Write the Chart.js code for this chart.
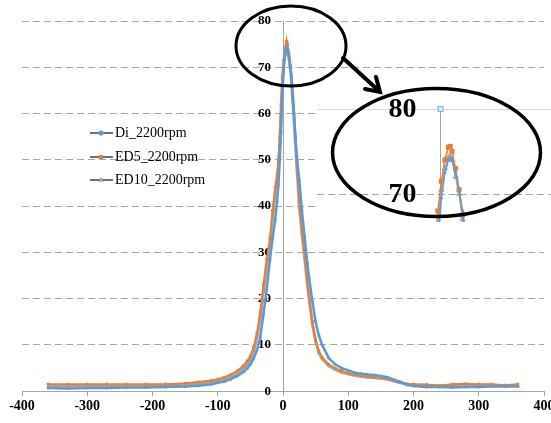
<!DOCTYPE html>
<html>
<head>
<meta charset="utf-8">
<script src="https://cdn.jsdelivr.net/npm/chart.js@4.4.1/dist/chart.umd.min.js"></script>
<style>
  html, body { margin: 0; padding: 0; background: #fff; }
  #wrap { position: relative; width: 551px; height: 423px; }
  #wrap canvas { position: absolute; left: 0; top: 0; }
</style>
</head>
<body>
<div id="wrap">
  <canvas id="main" width="551" height="423"></canvas>
  <canvas id="zoom" width="551" height="423"></canvas>
</div>
<script>
// Crank angle (deg) shared by all three runs
const angles = [
  -360, -330, -300, -270, -240, -210, -180, -150, -130, -110,
  -100, -90, -80, -70, -60, -55, -50, -45, -40, -35,
  -30, -25, -20, -16, -12, -9, -7, -5, -3, -1,
  1, 3, 5, 6, 7, 9, 11, 13, 15, 17,
  19, 21, 25, 29, 33, 37, 40, 45, 50, 55,
  60, 70, 80, 90, 100, 110, 120, 130, 140, 150,
  160, 170, 180, 190, 200, 220, 240, 260, 280, 300,
  320, 340, 360
];

const di = [
  0.7, 0.6, 0.7, 0.7, 0.8, 0.8, 0.9, 1.0, 1.2, 1.5,
  1.8, 2.1, 2.6, 3.3, 4.2, 4.9, 5.8, 7.0, 8.8, 11.5,
  16.5, 22, 28.5, 33, 37, 41, 44.5, 50, 56, 64,
  69.5, 72.5, 74, 74.2, 74, 72.5, 70.5, 68, 64, 60,
  55, 51, 45.5, 39, 33.5, 28, 24.5, 19.5, 15, 12,
  10, 7.2, 5.8, 5.0, 4.5, 4.0, 3.8, 3.6, 3.5, 3.3,
  3.0, 2.5, 2.0, 1.4, 1.1, 0.9, 0.9, 0.8, 0.9, 0.9,
  1.0, 1.0, 1.0
];

const ed5 = [
  1.5, 1.5, 1.5, 1.5, 1.5, 1.5, 1.5, 1.7, 2.0, 2.3,
  2.6, 3.0, 3.6, 4.4, 5.6, 6.5, 7.6, 9.6, 12.5, 17,
  23, 28.5, 33, 39, 44, 47, 50, 55, 62, 68,
  71.5, 74, 75.5, 75.6, 75, 73, 70.5, 67.5, 63, 59,
  54, 50, 41, 35, 30, 24, 20.5, 15, 11, 8.6,
  7.3, 5.8, 5.0, 4.4, 3.9, 3.6, 3.4, 3.2, 3.0, 2.9,
  2.7, 2.3, 1.9, 1.6, 1.5, 1.4, 1.2, 1.5, 1.6, 1.5,
  1.5, 1.3, 1.5
];

const ed10 = [
  1.2, 1.2, 1.2, 1.2, 1.2, 1.2, 1.3, 1.4, 1.7, 2.0,
  2.2, 2.6, 3.2, 3.9, 5.0, 5.8, 6.8, 8.6, 11.5, 15.5,
  21.5, 27, 31.5, 37.5, 42.5, 45.5, 48, 53, 60, 66.5,
  70.5, 73, 74.3, 74.4, 74, 72, 70, 67, 62.5, 58.5,
  53.5, 49, 40, 34, 29, 23.5, 20, 14.5, 10.8, 8.3,
  7.0, 5.5, 4.7, 4.1, 3.7, 3.4, 3.2, 3.0, 2.9, 2.8,
  2.6, 2.2, 1.8, 1.5, 1.4, 1.3, 1.2, 1.3, 1.4, 1.3,
  1.3, 1.2, 1.3
];

const seriesLabels = ['Di_2200rpm', 'ED5_2200rpm', 'ED10_2200rpm'];
const insetTicks = [70, 80];

const FONT = '"Liberation Serif", "Times New Roman", serif';

const series = [
  { data: di,   color: '#5b9bd5', style: 'circle',   width: 2.5, r: 1.5, zr: 1.6 },
  { data: ed5,  color: '#ed7d31', style: 'rect',     width: 2,   r: 2,   zr: 3.6 },
  { data: ed10, color: '#a5a5a5', style: 'triangle', width: 3,   r: 2,   zr: 3.8 },
];

const toPoints = ys => angles.map((x, i) => ({ x, y: ys[i] }));

// Legend sits inside the plot, left of the axis
const legendPlugin = {
  id: 'insideLegend',
  afterDraw(chart) {
    const ctx = chart.ctx;
    const rows = [133, 157, 180];
    ctx.save();
    chart.data.datasets.forEach((ds, i) => {
      const y = rows[i];
      ctx.strokeStyle = '#404040';
      ctx.lineWidth = 1.5;
      ctx.beginPath();
      ctx.moveTo(90, y);
      ctx.lineTo(113, y);
      ctx.stroke();
      ctx.fillStyle = ds.borderColor;
      ctx.strokeStyle = ds.borderColor;
      Chart.helpers.drawPoint(ctx, { pointStyle: ds.pointStyle, radius: 1.8, borderWidth: 0.5 }, 101, y);
      ctx.fillStyle = '#000';
      ctx.font = '14px ' + FONT;
      ctx.textBaseline = 'middle';
      ctx.textAlign = 'left';
      ctx.fillText(ds.label, 115, y);
    });
    ctx.restore();
  }
};

// The y axis sits at x = 0, Chart.js puts its labels right on the line; nudge them left
const shiftYLabels = {
  id: 'shiftYLabels',
  beforeDraw(chart) {
    const sc = chart.scales.y;
    if (sc._shifted) return;
    const orig = sc.drawLabels.bind(sc);
    sc.drawLabels = area => {
      chart.ctx.save();
      chart.ctx.translate(-12, 0);
      orig(area);
      chart.ctx.restore();
    };
    sc._shifted = true;
  }
};

new Chart(document.getElementById('main'), {
  type: 'scatter',
  data: {
    datasets: series.map((s, i) => ({
      label: seriesLabels[i],
      data: toPoints(s.data),
      showLine: true,
      borderColor: s.color,
      backgroundColor: s.color,
      borderWidth: s.width,
      pointStyle: s.style,
      pointRadius: s.r,
      pointBorderWidth: 0,
      tension: 0,
    })),
  },
  options: {
    responsive: false,
    animation: false,
    events: [],
    layout: { padding: { left: 22, right: 7, top: 21, bottom: 6 } },
    scales: {
      x: {
        type: 'linear',
        min: -400,
        max: 400,
        ticks: { stepSize: 100, color: '#000', font: { family: FONT, size: 14, weight: 'bold' }, padding: 2 },
        grid: { drawOnChartArea: false, drawTicks: true, tickLength: 5, color: '#a6a6a6' },
        border: { color: '#a6a6a6' },
        afterFit(scale) { scale.paddingLeft = 0; scale.paddingRight = 0; },
      },
      y: {
        position: { x: 0 },
        min: 0,
        max: 80,
        ticks: { stepSize: 10, color: '#000', font: { family: FONT, size: 13, weight: 'bold' } },
        grid: { color: '#a6a6a6', drawTicks: false },
        border: { color: '#a6a6a6', dash: [7, 4] },
      },
    },
    plugins: { legend: { display: false }, tooltip: { enabled: false } },
  },
  plugins: [legendPlugin, shiftYLabels],
});

// Zoomed inset of the peak, with the callout ellipses and arrow
const insetPlugin = {
  id: 'inset',
  beforeDraw(chart) {
    const ctx = chart.ctx;
    ctx.save();
    ctx.fillStyle = '#fff';
    ctx.fillRect(317, 96, 234, 130);
    ctx.restore();
  },
  beforeDatasetsDraw(chart) {
    const { ctx, scales: { x, y }, chartArea } = chart;
    ctx.save();
    insetTicks.forEach(v => {
      const py = Math.round(y.getPixelForValue(v)) + 0.5;
      ctx.beginPath();
      if (v === 80) { ctx.strokeStyle = '#d9d9d9'; ctx.setLineDash([]); }
      else { ctx.strokeStyle = '#a6a6a6'; ctx.setLineDash([7, 4]); }
      ctx.lineWidth = 1;
      ctx.moveTo(317, py);
      ctx.lineTo(551, py);
      ctx.stroke();
    });
    ctx.setLineDash([]);
    const ax = Math.round(x.getPixelForValue(0)) + 0.5;
    const top = y.getPixelForValue(80);
    ctx.strokeStyle = '#a6a6a6';
    ctx.beginPath();
    ctx.moveTo(ax, top);
    ctx.lineTo(ax, chartArea.bottom - 4);
    ctx.stroke();
    ctx.fillStyle = '#ddeef8';
    ctx.strokeStyle = '#7fb0d8';
    ctx.fillRect(ax - 2.5, top - 2.5, 5, 5);
    ctx.strokeRect(ax - 2.5, top - 2.5, 5, 5);
    ctx.fillStyle = '#000';
    ctx.font = 'bold 28px ' + FONT;
    ctx.textAlign = 'right';
    ctx.textBaseline = 'middle';
    insetTicks.forEach(v => ctx.fillText(String(v), ax - 24, y.getPixelForValue(v) + 1));
    ctx.restore();
  },
  afterDraw(chart) {
    const ctx = chart.ctx;
    ctx.save();
    ctx.strokeStyle = '#000';
    ctx.lineCap = 'round';
    // ellipse round the peak
    ctx.lineWidth = 3;
    ctx.beginPath();
    ctx.ellipse(291, 46, 55, 40, 0, 0, Math.PI * 2);
    ctx.stroke();
    // ellipse round the inset
    ctx.lineWidth = 3.5;
    ctx.beginPath();
    ctx.ellipse(436.5, 152.5, 104, 64, 0, 0, Math.PI * 2);
    ctx.stroke();
    // arrow
    ctx.lineWidth = 4;
    ctx.beginPath();
    ctx.moveTo(343, 58);
    ctx.lineTo(379, 91);
    ctx.stroke();
    ctx.beginPath();
    ctx.moveTo(365, 89);
    ctx.lineTo(380, 92);
    ctx.lineTo(376, 77);
    ctx.stroke();
    ctx.restore();
  }
};

new Chart(document.getElementById('zoom'), {
  type: 'scatter',
  data: {
    datasets: series.map((s, i) => ({
      label: seriesLabels[i],
      data: toPoints(s.data),
      showLine: true,
      borderColor: s.color,
      backgroundColor: s.color,
      borderWidth: 1.5,
      pointStyle: s.style,
      pointRadius: s.zr,
      pointBorderWidth: 0,
      tension: 0,
    })),
  },
  options: {
    responsive: false,
    animation: false,
    events: [],
    layout: { padding: { left: 317, right: 0, top: 109, bottom: 201 } },
    scales: {
      x: { type: 'linear', display: false, min: -69.3, max: 60.7 },
      y: { display: false, min: 66.7, max: 80 },
    },
    plugins: { legend: { display: false }, tooltip: { enabled: false } },
  },
  plugins: [insetPlugin],
});
</script>
</body>
</html>
